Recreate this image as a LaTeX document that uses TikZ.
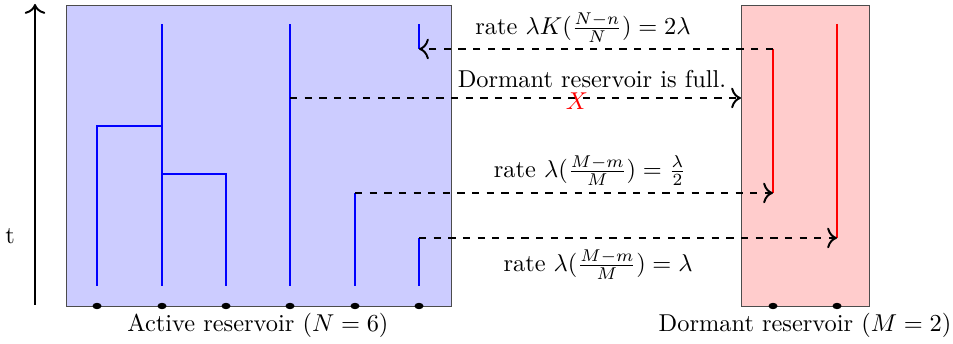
\documentclass[tikz,border=0pt]{standalone}
\usetikzlibrary{arrows.meta}
\begin{document}
\begin{tikzpicture}[x=0.41pt,y=-0.41pt,
  lin/.style={blue,line width=0.75pt},
  rlin/.style={red,line width=0.75pt},
  jump/.style={dashed,thick,-{To[scale=1.2]}},
  lbl/.style={inner sep=1pt}]
\useasboundingbox (0,0) rectangle (953,344);
% boxes
\draw[fill=blue!20,draw=black!70] (66,5) rectangle (451,306);
\draw[fill=red!20,draw=black!70] (741,5) rectangle (869,306);
\coordinate (dedge) at (741,98);
% time axis
\coordinate (tb) at (35,305);
\coordinate (tt) at (35,4);
\draw[thick,-{To[scale=1.2]}] (tb) -- (tt);
\node (t) at (10,236) {t};
% active lineages
\coordinate (a1b) at (97,286); \coordinate (a1t) at (97,126);
\coordinate (a2b) at (162,286); \coordinate (a2t) at (162,24); \coordinate (a2m) at (162,126); \coordinate (a2l) at (162,174);
\coordinate (a3b) at (226,286); \coordinate (a3t) at (226,174);
\coordinate (a4b) at (290,286); \coordinate (a4t) at (290,24); \coordinate (a4j) at (290,98);
\coordinate (a5b) at (355,286); \coordinate (a5t) at (355,193);
\coordinate (a6b) at (419,286); \coordinate (a6t) at (419,238);
\coordinate (a7b) at (419,49); \coordinate (a7t) at (419,24);
\draw[lin] (a1b) -- (a1t) -- (a2m);
\draw[lin] (a2b) -- (a2t);
\draw[lin] (a3b) -- (a3t) -- (a2l);
\draw[lin] (a4b) -- (a4t);
\draw[lin] (a5b) -- (a5t);
\draw[lin] (a6b) -- (a6t);
\draw[lin] (a7b) -- (a7t);
% dormant lineages
\coordinate (d1t) at (773,49); \coordinate (d1b) at (773,193);
\coordinate (d2t) at (837,24); \coordinate (d2b) at (837,238);
\draw[rlin] (d1t) -- (d1b);
\draw[rlin] (d2t) -- (d2b);
% dots
\foreach \x in {97,162,226,290,355,419,773,837}
  \fill (\x,306) ellipse [x radius=4.5, y radius=3.2];
% jumps
\draw[jump] (d1t) -- (a7b);
\draw[jump] (a4j) -- (dedge);
\draw[jump] (a5t) -- (d1b);
\draw[jump] (a6t) -- (d2b);
% labels
\node[lbl] (r1) at (583,28) {rate $\lambda K(\frac{N-n}{N})=2\lambda$};
\node[lbl] (full) at (592,79) {Dormant reservoir is full.};
\node[lbl,red] (x) at (577,101) {$X$};
\node[lbl] (r2) at (590,171) {rate $\lambda(\frac{M-m}{M})=\frac{\lambda}{2}$};
\node[lbl] (r3) at (598,265) {rate $\lambda(\frac{M-m}{M})=\lambda$};
\node[lbl] (act) at (258,325) {Active reservoir $(N=6)$};
\node[lbl] (dor) at (805,325) {Dormant reservoir $(M=2)$};
\end{tikzpicture}
\end{document}
